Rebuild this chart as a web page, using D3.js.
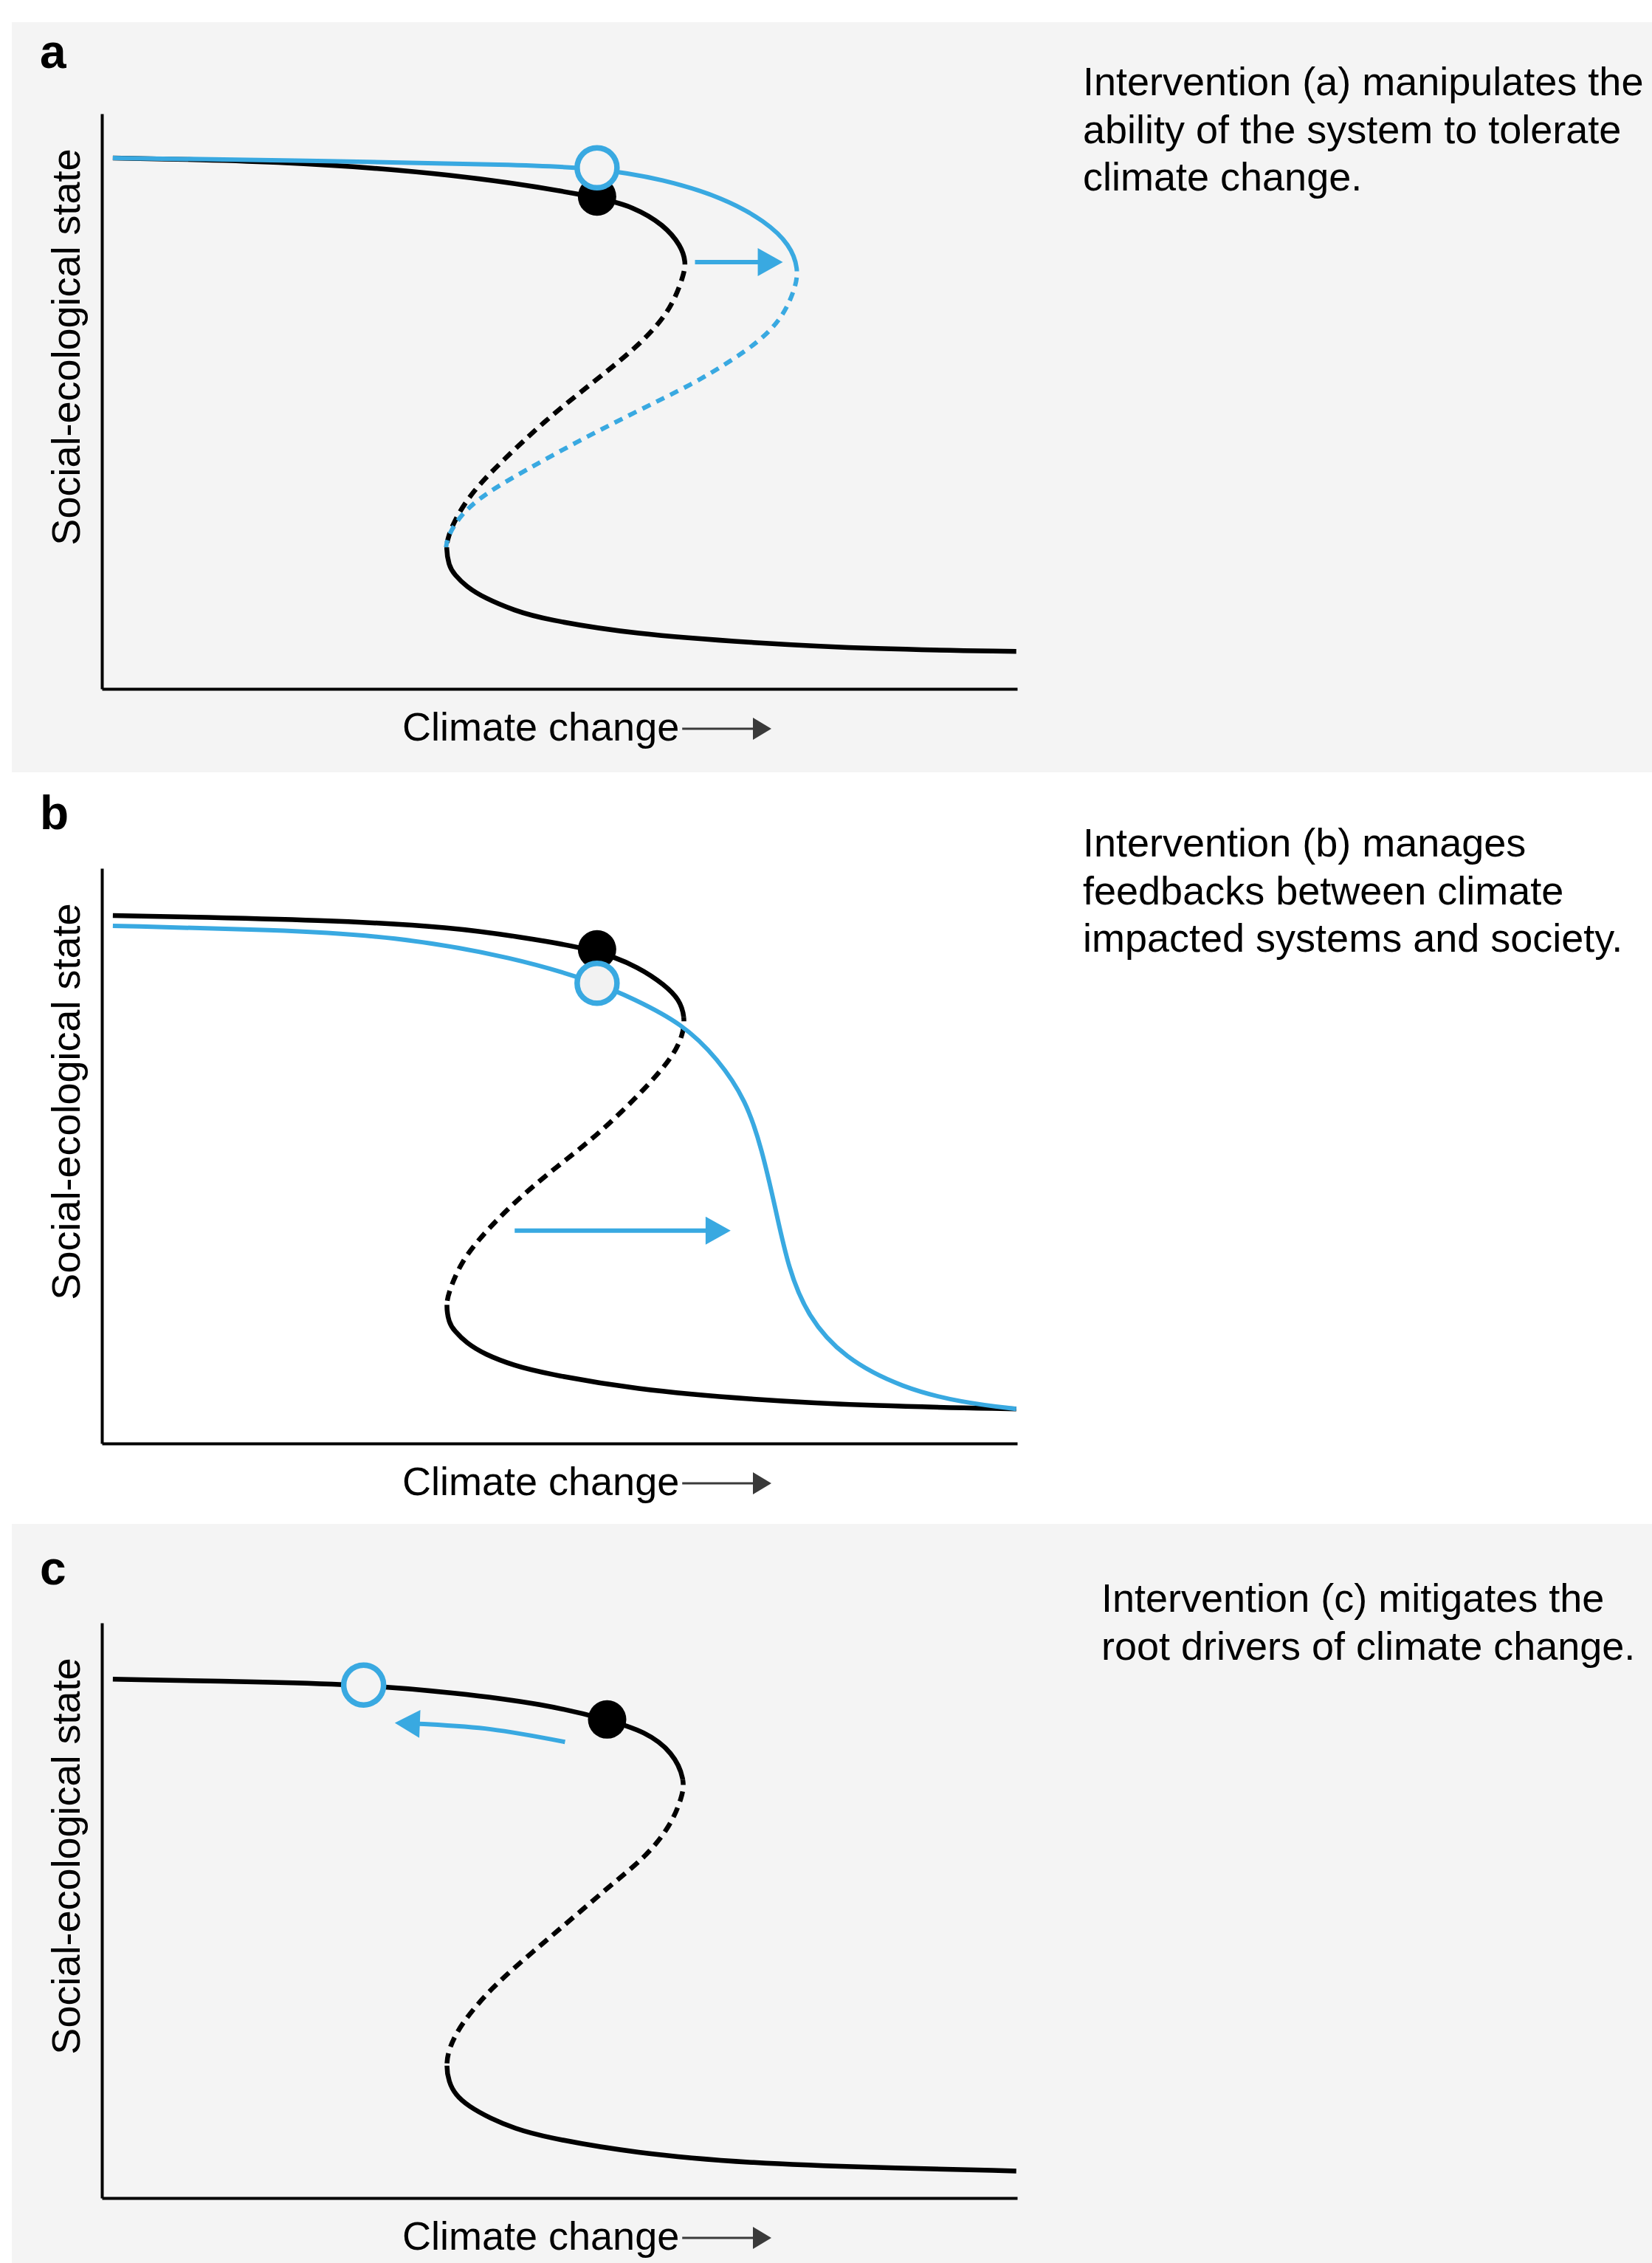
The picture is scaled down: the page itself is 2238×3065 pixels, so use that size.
<!DOCTYPE html>
<html>
<head>
<meta charset="utf-8">
<script src="https://cdn.jsdelivr.net/npm/d3@7"></script>
<style>
  html, body { margin: 0; padding: 0; background: #ffffff; }
  svg { display: block; }
</style>
</head>
<body>
<script>
// ---------------- DATA (x: climate change 0-100, y: social-ecological state 0-100) ----------------
const panelLabels = ["a", "b", "c"];
const xAxisLabel = "Climate change";
const yAxisLabel = "Social-ecological state";
const descriptions = [
  ["Intervention (a) manipulates the", "ability of the system to tolerate", "climate change."],
  ["Intervention (b) manages", "feedbacks between climate", "impacted systems and society."],
  ["Intervention (c) mitigates the", "root drivers of climate change."]
];

// Panel a: baseline S-curve (black) and shifted curve (blue)
const aBlack = [[1.2,92.3],[19.0,91.8],[38.5,89.6],[54.1,85.6],[58.1,83.8],[61.4,80.7],[63.3,77.0],[63.8,74.2],
  [63.6,72.0],[62.1,65.6],[58.5,59.4],[53.5,53.1],[48.3,46.5],[43.8,39.7],[40.5,34.4],[38.5,29.3],[37.8,26.2],[37.6,24.6],
  [37.9,21.4],[38.5,19.9],[39.8,17.8],[41.8,15.8],[45.1,13.6],[48.3,12.1],[58.1,9.5],[71.2,8.0],[84.3,6.9],[99.9,6.5]];
const aBlackFolds = [74.2, 24.6];
const aBlue = [[1.2,92.3],[25.5,91.8],[45.1,91.1],[54.1,90.6],[61.4,88.6],[67.9,85.4],[72.5,81.3],[75.2,77.2],[76.1,73.0],
  [75.8,69.8],[74.4,64.6],[71.9,60.5],[68.6,56.9],[64.7,53.1],[58.1,48.0],[51.6,42.7],[46.4,38.1],[41.8,33.9],[39.2,30.3],[37.8,26.6],[37.6,24.6]];
const aBlueFolds = [72.6, 0];
const aBlackDot = [54.1, 85.6];
const aBlueCircle = [54.1, 90.6];
const aArrow = [[64.8,74.2],[74.4,74.2]];

// Panel b
const bBlack = [[1.2,91.8],[25.5,91.0],[38.5,89.7],[45.1,88.2],[54.1,85.9],[58.8,82.7],[61.5,79.7],[63.1,77.2],[63.7,74.1],
  [63.5,71.1],[62.4,67.3],[59.8,62.5],[56.9,57.8],[53.5,52.8],[49.7,48.1],[45.7,42.9],[41.8,36.7],[39.2,31.5],[37.9,26.3],[37.6,24.1],
  [37.9,21.0],[38.5,19.6],[39.8,17.5],[41.8,15.5],[45.1,13.5],[48.3,12.2],[58.1,9.4],[71.2,7.6],[84.3,6.5],[99.9,6.0]];
const bBlackFolds = [74.1, 24.1];
const bBlue = [[1.2,90.0],[19.0,89.3],[32.0,88.2],[45.1,84.5],[54.1,80.1],[58.1,77.3],[63.4,73.0],[67.3,66.9],[70.4,59.6],
  [72.1,51.2],[73.6,40.8],[75.0,30.4],[77.1,22.1],[81.0,14.9],[87.5,9.6],[94.0,7.1],[99.9,6.0]];
const bBlueFolds = [0, 0];
const bBlackDot = [54.1, 85.9];
const bBlueCircle = [54.1, 80.0];
const bArrow = [[45.1,37.0],[68.7,37.0]];

// Panel c
const cBlack = [[1.2,90.2],[19.0,89.7],[28.6,89.2],[38.5,87.9],[48.3,85.9],[55.2,83.2],[59.4,81.1],[62.4,77.5],[63.7,72.7],
  [63.4,69.7],[62.1,64.6],[59.4,59.3],[56.2,55.2],[51.6,48.9],[47.0,42.7],[42.5,36.5],[39.2,30.2],[37.9,26.0],[37.6,23.0],
  [37.9,20.2],[38.6,18.0],[40.0,16.0],[42.5,13.8],[45.1,12.1],[48.3,10.6],[58.1,7.8],[71.2,6.0],[84.3,5.3],[99.9,4.7]];
const cBlackFolds = [72.7, 23.0];
const cBlackDot = [55.2, 83.2];
const cBlueCircle = [28.6, 89.2];
const cArrow = [[50.6,79.3],[42.5,81.5],[35.2,82.4],[32.0,82.6]];

// ---------------- LAYOUT / STYLE ----------------
const W = 2238, H = 3065;
const BLUE = "#39a9e1", BLACK = "#000000", BG = "#f4f4f4";
const FONT = "'Liberation Sans', Arial, Helvetica, sans-serif";
const FS = 54;
const axisLeftX = 138, axisRightX = 1378, plotH = 779;
const panelTops = [154, 1176, 2198];
const panelBg = [[16, 30, W - 16, 1016], null, [16, 2064, W - 16, H - 2064]];
const labelPos = [[54, 92], [54, 1123], [54, 2146]];
const descPos = [[1467, 129], [1467, 1160], [1492, 2183]];
const descLineH = 64.5;

const svg = d3.select("body").append("svg").attr("width", W).attr("height", H)
  .attr("font-family", FONT);
svg.append("rect").attr("width", W).attr("height", H).attr("fill", "#ffffff");
const defs = svg.append("defs");

const x = d3.scaleLinear().domain([0, 100]).range([axisLeftX, axisRightX]);
const y = d3.scaleLinear().domain([0, 100]).range([plotH, 0]);
const sCurve = d3.line().x(d => x(d[0])).y(d => y(d[1])).curve(d3.curveBasis);

const panels = [
  { curves: [[aBlack, aBlackFolds, BLACK], [aBlue, aBlueFolds, BLUE]],
    dot: aBlackDot, circle: aBlueCircle, circleFill: BG, arrow: aArrow },
  { curves: [[bBlack, bBlackFolds, BLACK], [bBlue, bBlueFolds, BLUE]],
    dot: bBlackDot, circle: bBlueCircle, circleFill: "#f2f2f2", arrow: bArrow },
  { curves: [[cBlack, cBlackFolds, BLACK]],
    dot: cBlackDot, circle: cBlueCircle, circleFill: BG, arrow: cArrow }
];

function arrowHead(g, tip, from, len, half, color) {
  const ang = Math.atan2(tip[1] - from[1], tip[0] - from[0]);
  const c = Math.cos(ang), s = Math.sin(ang);
  const bx = tip[0] - len * c, by = tip[1] - len * s;
  const p = [[tip[0], tip[1]], [bx - half * s, by + half * c], [bx + half * s, by - half * c]];
  g.append("path").attr("d", "M" + p.map(q => q.join(",")).join("L") + "Z").attr("fill", color);
  return [bx + 2 * c, by + 2 * s];
}

let clipId = 0;
function clipBand(y0, y1) {
  const id = "clip" + (clipId++);
  defs.append("clipPath").attr("id", id).append("rect")
    .attr("x", 0).attr("y", y0).attr("width", W).attr("height", Math.max(0, y1 - y0));
  return "url(#" + id + ")";
}

panels.forEach((P, i) => {
  if (panelBg[i]) {
    const b = panelBg[i];
    svg.append("rect").attr("x", b[0]).attr("y", b[1]).attr("width", b[2]).attr("height", b[3]).attr("fill", BG);
  }
  svg.append("text").attr("x", labelPos[i][0]).attr("y", labelPos[i][1])
    .attr("font-size", 64).attr("font-weight", "bold").attr("fill", "#000").text(panelLabels[i]);
  const dt = svg.append("text").attr("x", descPos[i][0]).attr("y", descPos[i][1])
    .attr("font-size", FS).attr("fill", "#000");
  descriptions[i].forEach((s, k) => dt.append("tspan").attr("x", descPos[i][0]).attr("y", descPos[i][1] + k * descLineH).text(s));

  const g = svg.append("g").attr("transform", `translate(0,${panelTops[i]})`);

  const ya = g.append("g").attr("transform", `translate(${axisLeftX},0)`)
    .call(d3.axisLeft(y).tickValues([]).tickSizeOuter(0));
  const xa = g.append("g").attr("transform", `translate(0,${plotH})`)
    .call(d3.axisBottom(x).tickValues([]).tickSizeOuter(0));
  [ya, xa].forEach(a => a.select(".domain").attr("stroke", "#000").attr("stroke-width", 4));

  g.append("text").attr("transform", `translate(108,316) rotate(-90)`)
    .attr("text-anchor", "middle").attr("font-size", FS).attr("fill", "#000").text(yAxisLabel);
  const xl = g.append("text").attr("x", 545).attr("y", plotH + 70)
    .attr("font-size", FS).attr("fill", "#000").text(xAxisLabel);
  const xEnd = 545 + xl.node().getComputedTextLength() + 4;
  const ay = plotH + 70 - 16;
  const tipX = 1045;
  g.append("line").attr("x1", xEnd).attr("x2", tipX - 22).attr("y1", ay).attr("y2", ay)
    .attr("stroke", "#3a3a3a").attr("stroke-width", 3);
  arrowHead(g, [tipX, ay], [xEnd, ay], 25, 15, "#3a3a3a");

  // S-curves: solid above the upper fold and below the lower fold, dashed in between
  P.curves.forEach(([pts, folds, col]) => {
    const w = col === BLACK ? 6.5 : 6;
    g.append("path").attr("d", sCurve(pts)).attr("fill", "none")
      .attr("stroke", col).attr("stroke-width", w).attr("stroke-dasharray", col === BLACK ? "14 9" : "12 9")
      .attr("clip-path", clipBand(y(folds[0]), y(folds[1])));
  });
  P.curves.forEach(([pts, folds, col]) => {
    const w = col === BLACK ? 6.5 : 6;
    g.append("path").attr("d", sCurve(pts)).attr("fill", "none").attr("stroke", col).attr("stroke-width", w)
      .attr("clip-path", clipBand(-50, y(folds[0])));
    g.append("path").attr("d", sCurve(pts)).attr("fill", "none").attr("stroke", col).attr("stroke-width", w)
      .attr("clip-path", clipBand(y(folds[1]), plotH + 50));
  });

  const ap = P.arrow.map(d => [x(d[0]), y(d[1])]);
  const tip = ap[ap.length - 1], prev = ap[ap.length - 2];
  const base = arrowHead(g, tip, prev, 34, 19, BLUE);
  const shaft = ap.slice(0, -1).concat([base]);
  g.append("path").attr("d", d3.line().curve(d3.curveCatmullRom.alpha(0.5))(shaft))
    .attr("fill", "none").attr("stroke", BLUE).attr("stroke-width", 6);

  g.append("circle").attr("cx", x(P.dot[0])).attr("cy", y(P.dot[1])).attr("r", 26).attr("fill", BLACK);
  g.append("circle").attr("cx", x(P.circle[0])).attr("cy", y(P.circle[1])).attr("r", 27)
    .attr("fill", P.circleFill).attr("stroke", BLUE).attr("stroke-width", 7.5);
});
</script>
</body>
</html>
